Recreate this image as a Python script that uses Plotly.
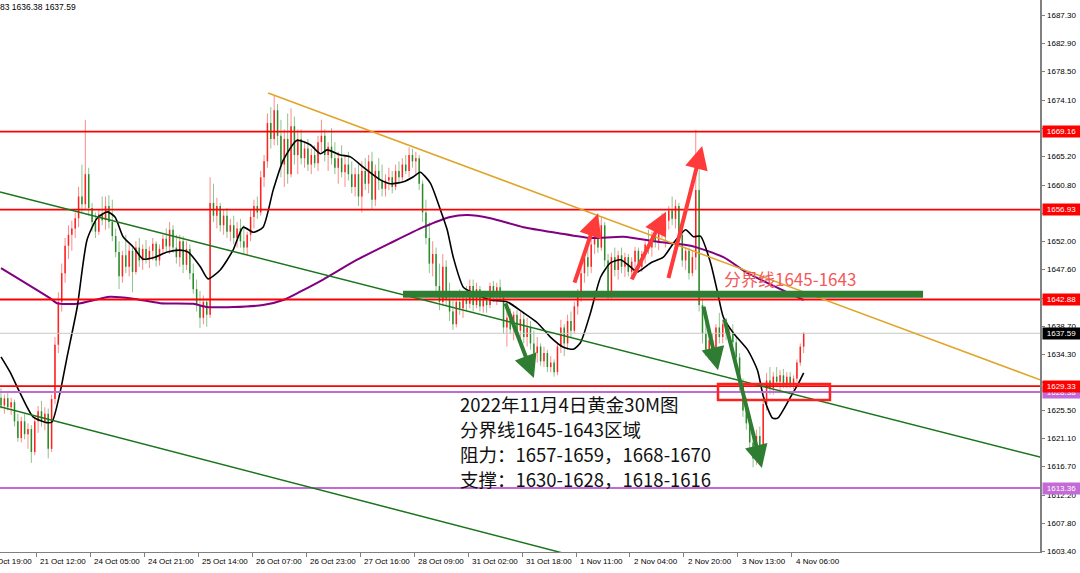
import plotly.graph_objects as go

# ---------------- data (hourly bars) ----------------
opens = [
    1627.5, 1626.3, 1627.4, 1626.0, 1626.8, 1623.8, 1621.2, 1623.8, 1621.8, 1622.6,
    1619.0, 1623.8, 1625.4, 1623.8, 1625.0, 1619.5, 1627.3, 1635.8, 1642.5, 1647.0,
    1651.3, 1653.0, 1654.0, 1655.6, 1659.0, 1657.8, 1662.5, 1657.2, 1655.0, 1653.5,
    1656.2, 1655.3, 1657.5, 1655.0, 1652.8, 1650.3, 1646.5, 1649.8, 1648.0, 1650.5,
    1647.2, 1651.0, 1649.0, 1650.8, 1649.3, 1650.5, 1651.6, 1649.0, 1650.8, 1652.4,
    1651.2, 1653.8, 1651.0, 1649.5, 1652.0, 1648.3, 1650.8, 1647.0, 1644.5, 1642.0,
    1640.0, 1642.5, 1640.5, 1658.0, 1656.0, 1657.5, 1654.5, 1656.0, 1653.5, 1654.5,
    1652.5, 1654.0, 1652.0, 1651.0, 1653.0, 1655.8, 1657.5, 1656.5, 1662.0, 1664.5,
    1670.5, 1668.0, 1672.5, 1668.5, 1664.0, 1668.0, 1662.5, 1670.0, 1665.5, 1668.0,
    1665.0, 1666.5, 1664.0, 1665.5, 1664.2, 1667.5, 1668.5, 1665.5, 1666.8, 1665.0,
    1663.5, 1665.0, 1662.8, 1664.0, 1662.5, 1660.5, 1662.5, 1659.0, 1663.0, 1661.0,
    1664.5, 1658.5, 1663.0, 1661.5, 1660.2, 1661.5, 1662.0, 1660.5, 1663.0, 1662.0,
    1664.0, 1663.0, 1665.5, 1664.5, 1665.0, 1661.0, 1656.5, 1652.5, 1648.5, 1650.0,
    1645.0, 1642.5, 1648.0, 1643.0, 1641.0, 1639.0, 1642.5, 1641.5, 1643.0, 1642.2,
    1645.0, 1642.0, 1644.5, 1641.8, 1643.0, 1642.0, 1645.0, 1643.5, 1644.8, 1643.2,
    1638.5, 1640.0, 1638.2, 1640.5, 1638.0, 1639.8, 1637.0, 1638.5, 1636.0, 1634.5,
    1635.5, 1633.2, 1634.5, 1632.3, 1633.0, 1631.5, 1635.5, 1638.5, 1636.0, 1639.5,
    1638.0, 1641.8, 1643.5, 1647.0, 1649.5, 1648.0, 1651.5, 1653.0, 1651.0, 1654.5,
    1649.0, 1644.0, 1649.5, 1647.5, 1649.8, 1648.0, 1649.5, 1647.2, 1648.8, 1650.5,
    1648.0, 1650.0, 1651.5, 1651.0, 1652.8, 1652.0, 1654.8, 1653.5, 1655.2, 1656.8,
    1655.5, 1657.5, 1653.0, 1649.0, 1650.5, 1647.0, 1649.5, 1660.0, 1642.0, 1637.5,
    1635.0, 1636.5, 1634.8, 1638.5, 1637.0, 1639.0, 1637.5, 1637.8, 1636.2, 1633.8,
    1629.5, 1625.5, 1623.5, 1620.5, 1618.0, 1621.5, 1619.8, 1626.5, 1630.2, 1629.0,
    1630.8, 1630.0, 1631.0, 1629.5, 1630.8, 1629.6, 1630.5, 1633.0, 1635.5,
]
highs = [
    1629.0, 1628.0, 1628.3, 1627.5, 1627.2, 1625.0, 1624.5, 1625.0, 1623.5, 1623.2,
    1624.5, 1626.2, 1627.0, 1626.0, 1625.8, 1628.0, 1637.0, 1644.0, 1648.5, 1652.5,
    1654.5, 1655.2, 1656.5, 1660.5, 1664.0, 1671.0, 1663.5, 1658.0, 1656.5, 1657.0,
    1659.0, 1659.0, 1659.2, 1658.5, 1654.0, 1652.0, 1650.5, 1653.0, 1651.5, 1651.0,
    1652.0, 1652.5, 1651.5, 1652.2, 1651.2, 1652.5, 1652.0, 1651.5, 1653.0, 1654.0,
    1655.0, 1654.5, 1653.0, 1653.0, 1652.8, 1652.0, 1651.5, 1648.5, 1646.0, 1644.2,
    1643.5, 1643.0, 1662.0, 1661.0, 1658.8, 1658.0, 1657.0, 1657.2, 1655.5, 1656.0,
    1655.0, 1655.5, 1654.5, 1653.5, 1657.0, 1658.5, 1659.0, 1663.0, 1665.5, 1672.0,
    1673.0, 1674.9, 1673.5, 1671.0, 1669.5, 1672.0, 1672.8, 1671.5, 1669.5, 1669.5,
    1667.5, 1668.0, 1666.5, 1667.0, 1668.5, 1671.0, 1669.5, 1667.5, 1669.7, 1667.5,
    1666.0, 1667.0, 1665.5, 1666.0, 1664.5, 1663.5, 1664.0, 1664.5, 1665.0, 1665.5,
    1666.0, 1664.0, 1665.0, 1664.0, 1662.5, 1663.5, 1663.0, 1664.0, 1664.5, 1665.0,
    1665.5, 1666.7, 1666.5, 1666.0, 1665.5, 1661.5, 1658.5, 1655.0, 1652.0, 1651.0,
    1648.5, 1650.0, 1649.0, 1645.5, 1643.5, 1643.5, 1644.5, 1644.0, 1645.0, 1646.0,
    1646.0, 1645.5, 1645.0, 1643.5, 1644.0, 1645.5, 1645.8, 1645.5, 1646.0, 1643.8,
    1641.0, 1641.5, 1641.0, 1641.2, 1641.0, 1640.5, 1640.0, 1639.5, 1638.0, 1637.0,
    1636.0, 1635.5, 1635.0, 1634.0, 1633.5, 1636.0, 1639.7, 1639.0, 1640.5, 1641.0,
    1642.5, 1644.5, 1648.0, 1650.5, 1651.0, 1652.5, 1655.3, 1656.4, 1655.8, 1655.0,
    1650.0, 1650.2, 1651.0, 1650.5, 1651.0, 1650.2, 1650.0, 1649.5, 1651.1, 1651.0,
    1650.5, 1652.0, 1653.8, 1653.5, 1654.5, 1655.5, 1656.4, 1656.0, 1657.5, 1659.0,
    1658.5, 1658.0, 1654.5, 1651.1, 1651.0, 1650.5, 1669.4, 1666.0, 1643.0, 1640.5,
    1638.5, 1637.5, 1639.0, 1640.8, 1639.7, 1640.0, 1638.5, 1639.0, 1637.0, 1634.5,
    1630.5, 1627.5, 1625.0, 1622.0, 1622.5, 1623.0, 1627.5, 1631.4, 1632.3, 1631.5,
    1632.3, 1631.8, 1632.0, 1631.5, 1631.5, 1631.0, 1633.5, 1636.0, 1637.8,
]
lows = [
    1625.8, 1625.0, 1625.5, 1624.8, 1623.0, 1620.6, 1620.5, 1621.0, 1619.5, 1617.3,
    1618.5, 1622.0, 1623.0, 1622.4, 1618.0, 1619.0, 1626.5, 1634.5, 1641.0, 1645.5,
    1649.2, 1650.5, 1652.5, 1654.2, 1656.5, 1657.0, 1656.0, 1653.5, 1652.5, 1653.0,
    1654.5, 1653.8, 1654.0, 1652.0, 1649.5, 1644.5, 1645.5, 1647.0, 1646.5, 1644.0,
    1646.8, 1648.0, 1647.5, 1648.5, 1647.8, 1649.0, 1648.0, 1648.2, 1650.0, 1650.5,
    1650.0, 1650.2, 1648.5, 1648.0, 1647.0, 1647.5, 1646.0, 1643.8, 1641.0, 1638.4,
    1639.0, 1638.6, 1640.0, 1655.0, 1654.0, 1653.5, 1653.0, 1652.5, 1652.0, 1651.5,
    1651.0, 1651.0, 1650.0, 1649.8, 1652.0, 1654.0, 1655.5, 1656.0, 1660.5, 1663.5,
    1666.5, 1667.0, 1667.0, 1662.0, 1660.5, 1661.0, 1662.0, 1664.0, 1662.5, 1664.0,
    1663.5, 1663.0, 1662.5, 1663.5, 1663.0, 1666.0, 1664.5, 1663.0, 1664.0, 1662.5,
    1661.0, 1662.0, 1660.5, 1661.5, 1659.5, 1659.0, 1657.5, 1656.5, 1660.0, 1659.5,
    1657.0, 1657.5, 1660.0, 1659.0, 1659.0, 1660.0, 1659.5, 1660.0, 1661.0, 1661.5,
    1662.5, 1662.0, 1663.5, 1662.5, 1660.0, 1655.0, 1651.5, 1647.0, 1646.5, 1644.0,
    1641.2, 1642.0, 1642.0, 1639.5, 1638.1, 1638.5, 1640.5, 1640.0, 1641.0, 1641.5,
    1641.0, 1641.5, 1641.0, 1640.8, 1640.8, 1641.5, 1642.5, 1642.0, 1642.5, 1637.5,
    1635.5, 1637.5, 1636.5, 1637.0, 1635.4, 1636.0, 1635.5, 1635.0, 1633.5, 1633.0,
    1632.5, 1632.3, 1631.5, 1631.5, 1630.8, 1631.0, 1634.5, 1634.0, 1635.0, 1637.0,
    1637.5, 1640.5, 1642.5, 1645.5, 1646.5, 1647.0, 1650.0, 1650.2, 1650.5, 1648.0,
    1642.8, 1643.0, 1646.5, 1646.0, 1647.0, 1646.4, 1646.5, 1646.5, 1647.5, 1647.0,
    1647.2, 1648.5, 1650.0, 1649.6, 1651.0, 1650.6, 1652.5, 1651.0, 1653.8, 1654.5,
    1654.0, 1652.0, 1648.0, 1647.5, 1646.0, 1646.5, 1647.5, 1641.0, 1636.0, 1634.0,
    1633.4, 1633.5, 1634.0, 1636.0, 1636.0, 1636.5, 1636.0, 1635.5, 1633.0, 1628.5,
    1624.5, 1622.5, 1619.0, 1616.6, 1617.0, 1618.5, 1619.0, 1625.5, 1628.0, 1628.0,
    1629.2, 1628.5, 1629.0, 1629.0, 1629.0, 1628.8, 1630.0, 1632.5, 1634.5,
]
closes = [
    1626.3, 1627.4, 1626.0, 1626.8, 1623.8, 1621.2, 1623.8, 1621.8, 1622.6, 1619.0,
    1623.8, 1625.4, 1623.8, 1625.0, 1619.5, 1627.3, 1635.8, 1642.5, 1647.0, 1651.3,
    1653.0, 1654.0, 1655.6, 1659.0, 1657.8, 1662.5, 1657.2, 1655.0, 1653.5, 1656.2,
    1655.3, 1657.5, 1655.0, 1652.8, 1650.3, 1646.5, 1649.8, 1648.0, 1650.5, 1647.2,
    1651.0, 1649.0, 1650.8, 1649.3, 1650.5, 1651.6, 1649.0, 1650.8, 1652.4, 1651.2,
    1653.8, 1651.0, 1649.5, 1652.0, 1648.3, 1650.8, 1647.0, 1644.5, 1642.0, 1640.0,
    1642.5, 1640.5, 1658.0, 1656.0, 1657.5, 1654.5, 1656.0, 1653.5, 1654.5, 1652.5,
    1654.0, 1652.0, 1651.0, 1653.0, 1655.8, 1657.5, 1656.5, 1662.0, 1664.5, 1670.5,
    1668.0, 1672.5, 1668.5, 1664.0, 1668.0, 1662.5, 1670.0, 1665.5, 1668.0, 1665.0,
    1666.5, 1664.0, 1665.5, 1664.2, 1667.5, 1668.5, 1665.5, 1666.8, 1665.0, 1663.5,
    1665.0, 1662.8, 1664.0, 1662.5, 1660.5, 1662.5, 1659.0, 1663.0, 1661.0, 1664.5,
    1658.5, 1663.0, 1661.5, 1660.2, 1661.5, 1662.0, 1660.5, 1663.0, 1662.0, 1664.0,
    1663.0, 1665.5, 1664.5, 1665.0, 1661.0, 1656.5, 1652.5, 1648.5, 1650.0, 1645.0,
    1642.5, 1648.0, 1643.0, 1641.0, 1639.0, 1642.5, 1641.5, 1643.0, 1642.2, 1645.0,
    1642.0, 1644.5, 1641.8, 1643.0, 1642.0, 1645.0, 1643.5, 1644.8, 1643.2, 1638.5,
    1640.0, 1638.2, 1640.5, 1638.0, 1639.8, 1637.0, 1638.5, 1636.0, 1634.5, 1635.5,
    1633.2, 1634.5, 1632.3, 1633.0, 1631.5, 1635.5, 1638.5, 1636.0, 1639.5, 1638.0,
    1641.8, 1643.5, 1647.0, 1649.5, 1648.0, 1651.5, 1653.0, 1651.0, 1654.5, 1649.0,
    1644.0, 1649.5, 1647.5, 1649.8, 1648.0, 1649.5, 1647.2, 1648.8, 1650.5, 1648.0,
    1650.0, 1651.5, 1651.0, 1652.8, 1652.0, 1654.8, 1653.5, 1655.2, 1656.8, 1655.5,
    1657.5, 1653.0, 1649.0, 1650.5, 1647.0, 1649.5, 1660.0, 1642.0, 1637.5, 1635.0,
    1636.5, 1634.8, 1638.5, 1637.0, 1639.0, 1637.5, 1637.8, 1636.2, 1633.8, 1629.5,
    1625.5, 1623.5, 1620.5, 1618.0, 1621.5, 1619.8, 1626.5, 1630.2, 1629.0, 1630.8,
    1630.0, 1631.0, 1629.5, 1630.8, 1629.6, 1630.5, 1633.0, 1635.5, 1637.59,
]

# moving averages (bar index, price)
ma_fast_x = [0, 2.7, 5.6, 9.5, 13.6, 15.1, 17.5, 19.6, 22.6, 25.5, 28.5, 31.5, 33.8, 36.2, 39.2, 42.1,
             45.1, 49.3, 53.1, 55.5, 59.1, 61.4, 65.0, 68.8, 71.8, 74.8, 77.7, 80.7, 83.7, 87.8, 91.7,
             94.7, 96.7, 100.6, 103.6, 107.4, 112.5, 115.4, 119.3, 122.3, 124.3, 127.3, 130.3, 132.3,
             134.1, 137.1, 140.1, 145.1, 150.1, 154.9, 159.1, 162.9, 166.8, 169.7, 171.8, 174.8, 177.8,
             180.7, 183.7, 186.6, 188.7, 192.6, 196.4, 199.4, 203.0, 205.3, 207.4, 210.4, 212.5, 214.2,
             217.2, 221.4, 224.3, 226.1, 228.8, 230.3, 234.1, 236.2, 238.0]
ma_fast_y = [1633.9, 1631.5, 1628.3, 1624.5, 1623.6, 1623.7, 1628.3, 1633.9, 1641.7, 1652.2, 1655.6,
             1656.6, 1655.8, 1652.7, 1651.1, 1649.2, 1649.4, 1650.3, 1650.6, 1650.3, 1648.0, 1646.1,
             1647.5, 1650.6, 1654.2, 1653.4, 1654.2, 1660.0, 1664.7, 1667.8, 1667.1, 1665.7, 1666.3,
             1665.5, 1665.2, 1663.6, 1661.6, 1661.0, 1661.3, 1662.1, 1662.8, 1661.1, 1656.9, 1653.8,
             1649.5, 1644.8, 1643.9, 1642.8, 1642.5, 1640.8, 1639.2, 1637.0, 1635.4, 1635.1, 1636.1,
             1640.8, 1646.4, 1648.6, 1649.1, 1648.0, 1647.2, 1648.6, 1649.5, 1651.7, 1653.8, 1652.7,
             1652.8, 1648.6, 1643.9, 1640.1, 1637.6, 1635.0, 1631.8, 1627.6, 1624.3, 1624.3, 1627.6,
             1629.5, 1631.4]
ma_slow_x = [0, 14.5, 16.6, 22.6, 32.3, 39.2, 47.2, 57.0, 61.1, 68.8, 77.7, 83.7, 88.7, 95.5, 105.6,
             115.4, 125.2, 133.2, 138.3, 145.1, 154.9, 165.0, 174.8, 184.6, 194.7, 204.5, 214.2, 221.4,
             230.3, 238.0]
ma_slow_y = [1647.8, 1643.1, 1642.3, 1642.2, 1643.3, 1643.0, 1642.3, 1642.2, 1641.7, 1641.7, 1642.0,
             1642.8, 1644.1, 1646.0, 1649.1, 1651.7, 1654.2, 1655.8, 1656.1, 1655.6, 1654.2, 1653.3,
             1652.5, 1652.7, 1651.9, 1651.3, 1649.5, 1647.0, 1644.7, 1642.8]

# hand-drawn trend lines: (bar index, price) end points
green_upper_x = [-0.3, 308.1]
green_upper_y = [1659.7, 1618.2]
green_lower_x = [-0.3, 200.0]
green_lower_y = [1626.1, 1598.6]
orange_x = [79.2, 308.1]
orange_y = [1675.2, 1630.3]
pivot_band_x = [119.2, 273.4]
pivot_band_y = [1643.7, 1643.7]
support_box_x = [212.6, 245.8]
support_box_y = [1627.15, 1629.65]

# arrows: tail -> head (bar index, price)
red_arrows = [((169.9, 1645.3), (177.0, 1656.3)),
              ((186.8, 1645.8), (197.2, 1656.6)),
              ((197.8, 1646.0), (207.9, 1666.9))]
green_arrows = [((149.4, 1642.5), (158.0, 1630.6)),
                ((208.2, 1642.0), (212.6, 1631.8)),
                ((214.4, 1640.0), (225.6, 1616.5))]

red_levels = [1669.16, 1656.93, 1642.88, 1629.33]
violet_levels = [1628.38, 1613.36]
last_price = 1637.59

y_tick_labels = ["1603.40", "1607.80", "1612.20", "1616.70", "1621.10", "1625.50", "1629.90",
                 "1634.30", "1638.70", "1643.10", "1647.60", "1652.00", "1656.40", "1660.80",
                 "1665.20", "1669.60", "1674.10", "1678.50", "1682.90", "1687.30"]
x_tick_labels = ["20 Oct 19:00", "21 Oct 12:00", "24 Oct 05:00", "24 Oct 21:00", "25 Oct 14:00",
                 "26 Oct 07:00", "26 Oct 23:00", "27 Oct 16:00", "28 Oct 09:00", "31 Oct 02:00",
                 "31 Oct 18:00", "1 Nov 11:00", "2 Nov 04:00", "2 Nov 20:00", "3 Nov 13:00",
                 "4 Nov 06:00"]
header_text = "83 1636.38 1637.59"
note_lines = ["2022年11月4日黄金30M图", "分界线1645-1643区域",
              "阻力：1657-1659，1668-1670", "支撑：1630-1628，1618-1616"]
pivot_label = "分界线1645-1643"

# ---------------- figure ----------------
W, H = 1080, 573
ML, MR, MT, MB = 0, 40, 0, 21
PW, PH = W - ML - MR, H - MT - MB
BAR_PX = 3.3725
X0 = -0.3
X1 = X0 + PW / BAR_PX
Y_TOP, Y_BOT = 1689.76, 1603.35
PX_PER_PRICE = PH / (Y_TOP - Y_BOT)

n = len(closes)
up = [i for i in range(n) if closes[i] >= opens[i]]
dn = [i for i in range(n) if closes[i] < opens[i]]


def segs(sel, a, b):
    xs, ys = [], []
    for i in sel:
        xs += [i, i, None]
        ys += [a[i], b[i], None]
    return xs, ys


fig = go.Figure()
for sel, wick_c, body_c in [(up, "#ff8a8a", "#ff2020"), (dn, "#8fc48f", "#2a8a2a")]:
    xs, ys = segs(sel, lows, highs)
    fig.add_trace(go.Scatter(x=xs, y=ys, mode="lines", line=dict(color=wick_c, width=1),
                             hoverinfo="skip", showlegend=False))
    xs, ys = segs(sel, opens, closes)
    fig.add_trace(go.Scatter(x=xs, y=ys, mode="lines", line=dict(color=body_c, width=1.5),
                             hoverinfo="skip", showlegend=False))

fig.add_trace(go.Scatter(x=ma_slow_x, y=ma_slow_y, mode="lines",
                         line=dict(color="#800080", width=2, shape="spline", smoothing=0.6),
                         hoverinfo="skip", showlegend=False))
fig.add_trace(go.Scatter(x=ma_fast_x, y=ma_fast_y, mode="lines",
                         line=dict(color="#000000", width=1.6, shape="spline", smoothing=0.6),
                         hoverinfo="skip", showlegend=False))

shapes = []
shapes.append(dict(type="line", xref="paper", yref="y", x0=0, x1=1, y0=last_price, y1=last_price,
                   line=dict(color="#c8c8c8", width=1)))
for lv in red_levels:
    shapes.append(dict(type="line", xref="paper", yref="y", x0=0, x1=1, y0=lv, y1=lv,
                       line=dict(color="#ff0000", width=1.8)))
for lv in violet_levels:
    shapes.append(dict(type="line", xref="paper", yref="y", x0=0, x1=1, y0=lv, y1=lv,
                       line=dict(color="#c26ad6", width=2)))
for xs_, ys_, col, wd in [(green_upper_x, green_upper_y, "#1b741b", 1.5),
                          (green_lower_x, green_lower_y, "#1b741b", 1.5),
                          (orange_x, orange_y, "#e0a428", 1.5),
                          (pivot_band_x, pivot_band_y, "#2e7d32", 7)]:
    shapes.append(dict(type="line", xref="x", yref="y", x0=xs_[0], x1=xs_[1], y0=ys_[0], y1=ys_[1],
                       line=dict(color=col, width=wd)))
shapes.append(dict(type="rect", xref="x", yref="y", x0=support_box_x[0], x1=support_box_x[1],
                   y0=support_box_y[0], y1=support_box_y[1],
                   line=dict(color="#ff2020", width=2.5), fillcolor="rgba(0,0,0,0)"))

ann = []
for arrows, col in [(red_arrows, "#ff3a3a"), (green_arrows, "#2e7d32")]:
    for (tx, ty), (hx, hy) in arrows:
        ann.append(dict(x=hx, y=hy, ax=tx, ay=ty, xref="x", yref="y", axref="x", ayref="y",
                        text="", showarrow=True, arrowhead=2, arrowsize=1.15, arrowwidth=4,
                        arrowcolor=col))

# bottom time labels (left-aligned after their tick, as in MT4)
x_tick_pos = [-5.5 + 16 * k for k in range(len(x_tick_labels))]
for pos, lab in zip(x_tick_pos, x_tick_labels):
    ann.append(dict(x=(pos - X0) / (X1 - X0), y=0, xref="paper", yref="paper", text=lab,
                    showarrow=False, xanchor="left", yanchor="top", xshift=2, yshift=-3,
                    font=dict(family="Liberation Sans", size=8, color="#000000")))

# right price-scale labels; the ones hidden under the coloured tags are skipped
tag_prices = red_levels + violet_levels + [last_price]
for lab in y_tick_labels:
    v = float(lab)
    if min(abs(v - t) * PX_PER_PRICE for t in tag_prices) < 5.5:
        continue
    ann.append(dict(x=1, y=v, xref="paper", yref="y", text=lab, showarrow=False,
                    xanchor="left", yanchor="middle", xshift=5,
                    font=dict(family="Liberation Sans", size=8, color="#000000")))

for levels, bg in [(violet_levels, "#c26ad6"), ([last_price], "#000000"), (red_levels, "#ff0000")]:
    for lv in levels:
        ann.append(dict(x=1, y=lv, xref="paper", yref="y", text=f"{lv:.2f}", showarrow=False,
                        xanchor="left", yanchor="middle", xshift=2, bgcolor=bg, borderpad=1,
                        width=35, align="center",
                        font=dict(family="Liberation Sans", size=8, color="#ffffff")))

ann.append(dict(x=0, y=1 - 7 / PH, xref="paper", yref="paper", text=header_text, showarrow=False,
                xanchor="left", yanchor="middle", xshift=-2,
                font=dict(family="Liberation Sans", size=8.5, color="#000000")))

for j, line in enumerate(note_lines):
    ann.append(dict(x=458 / PW, y=1 - (404 + 25 * j) / PH, xref="paper", yref="paper", text=line,
                    showarrow=False, xanchor="left", yanchor="middle",
                    font=dict(family="Noto Sans CJK SC", size=18.5, color="#111111")))
ann.append(dict(x=722 / PW, y=1 - 278 / PH, xref="paper", yref="paper", text=pivot_label,
                showarrow=False, xanchor="left", yanchor="middle",
                font=dict(family="Noto Sans CJK SC", size=17, color="#f25a5a")))

fig.update_layout(
    width=W, height=H, margin=dict(l=ML, r=MR, t=MT, b=MB, pad=0, autoexpand=False),
    paper_bgcolor="#ffffff", plot_bgcolor="#ffffff", showlegend=False,
    shapes=shapes, annotations=ann,
    xaxis=dict(range=[X0, X1], showgrid=False, zeroline=False, showline=True, automargin=False,
               linecolor="#808080", linewidth=1, ticks="outside", ticklen=4, tickcolor="#808080",
               tickvals=x_tick_pos, showticklabels=False, fixedrange=True),
    yaxis=dict(range=[Y_BOT, Y_TOP], side="right", showgrid=False, zeroline=False, showline=True,
               automargin=False, linecolor="#808080", linewidth=1.5, ticks="outside", ticklen=3,
               tickcolor="#808080", tickvals=[float(t) for t in y_tick_labels],
               showticklabels=False, fixedrange=True),
)

fig.write_html("out.html", config={"displayModeBar": False},
               post_script="document.body.style.margin='0';document.body.style.overflow='hidden';")
